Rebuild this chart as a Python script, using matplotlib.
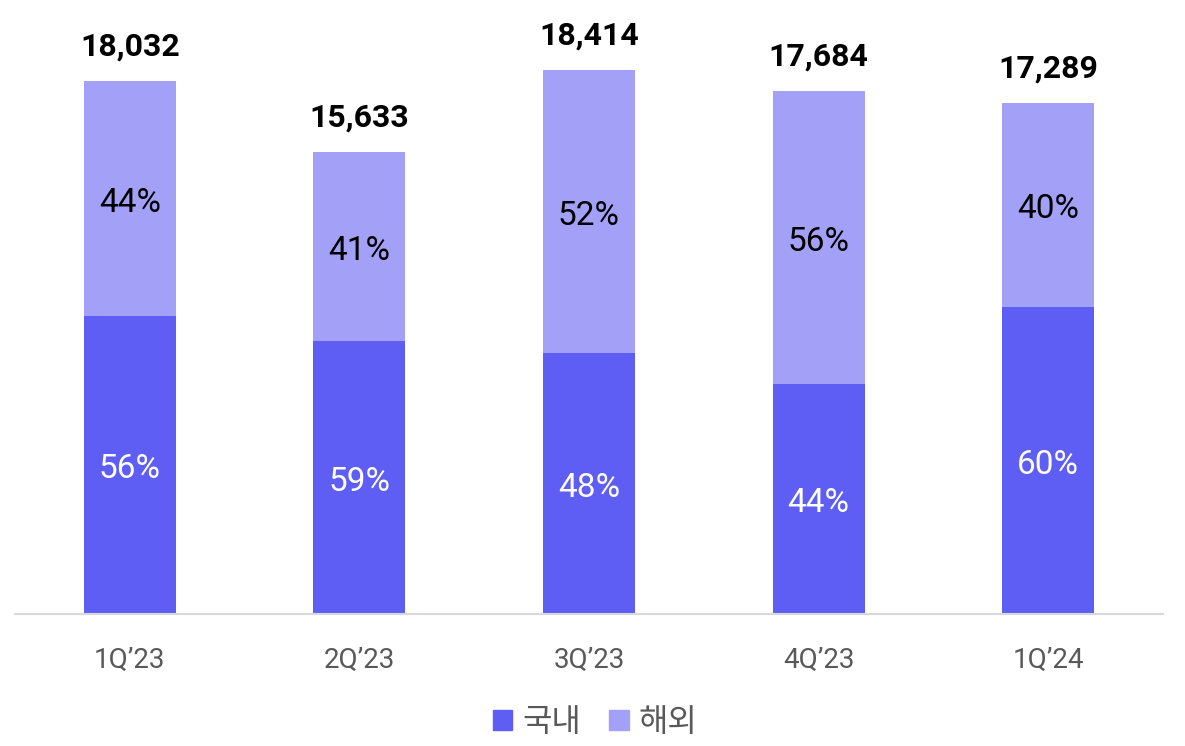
import matplotlib
matplotlib.use("Agg")
import matplotlib.pyplot as plt
from matplotlib.patches import Patch
import numpy as np

quarters = ["1Q\u201923", "2Q\u201923", "3Q\u201923", "4Q\u201923", "1Q\u201924"]
totals = [18032, 15633, 18414, 17684, 17289]
domestic_pct = [56, 59, 48, 44, 60]
overseas_pct = [44, 41, 52, 56, 40]
series_names = ["국내", "해외"]

dark = "#5E5EF5"
light = "#A3A0F8"

plt.rcParams['font.family'] = ['Roboto', 'Noto Sans CJK KR', 'DejaVu Sans']

fig = plt.figure(figsize=(11.85, 7.46), dpi=100)
ax = fig.add_axes([15/1185, 132/746, (1163-15)/1185, (614-23)/746])

x = np.arange(len(quarters))
tot = np.array(totals, dtype=float)
dom = tot * np.array(domestic_pct) / 100
ovs = tot * np.array(overseas_pct) / 100

ax.bar(x, dom, width=0.4, color=dark, zorder=2)
ax.bar(x, ovs, width=0.4, bottom=dom, color=light, zorder=2)

for i in range(len(x)):
    ax.annotate(f"{domestic_pct[i]}%", xy=(x[i], dom[i] / 2), xytext=(0, -3),
                textcoords='offset points', ha='center', va='center',
                color='white', fontsize=24)
    ax.annotate(f"{overseas_pct[i]}%", xy=(x[i], dom[i] + ovs[i] / 2), xytext=(0, -3),
                textcoords='offset points', ha='center', va='center',
                color='black', fontsize=24)
    ax.annotate(f"{totals[i]:,}", xy=(x[i], tot[i]), xytext=(0, 25),
                textcoords='offset points', ha='center', va='center',
                fontsize=23, fontweight='bold', color='black')

ax.set_xlim(-0.5, 4.5)
ax.set_ylim(0, 20000)
ax.set_xticks(x)
ax.set_xticklabels(quarters, fontsize=20, color='#595959')
ax.tick_params(axis='x', length=0, pad=24)
ax.set_yticks([])
for s in ['top', 'right', 'left']:
    ax.spines[s].set_visible(False)
ax.spines['bottom'].set_color('#D9D9D9')
ax.spines['bottom'].set_linewidth(1.5)

handles = [Patch(color=dark), Patch(color=light)]
fig.legend(handles, series_names, loc='center', bbox_to_anchor=(595/1185, 1 - 723/746),
           ncol=2, frameon=False, fontsize=23, handlelength=0.6, handleheight=0.6,
           handletextpad=0.3, columnspacing=0.9, labelcolor='#595959')

fig.savefig("out.png", dpi=100)
